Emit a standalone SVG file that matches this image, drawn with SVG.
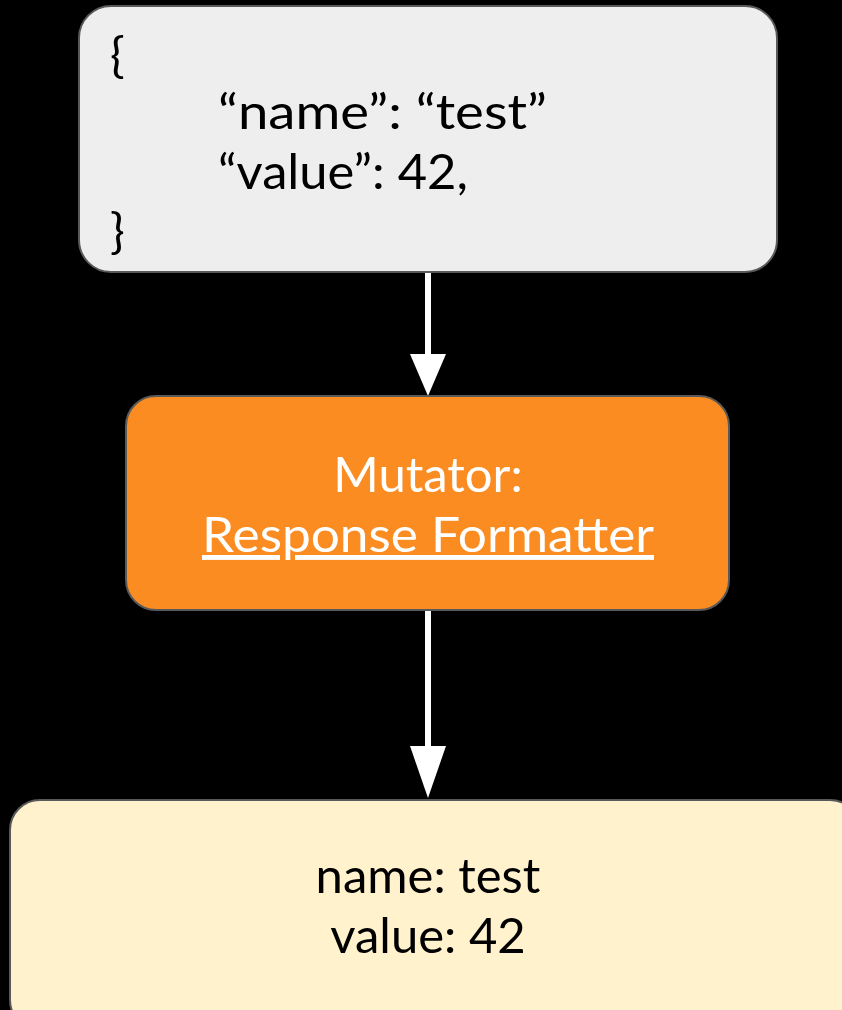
<svg xmlns="http://www.w3.org/2000/svg" width="842" height="1010" viewBox="0 0 842 1010">
<defs>
<style>
.t{font-family:Lato,"Open Sans","Liberation Sans",sans-serif;font-size:49px;}
.box{stroke:#595959;stroke-width:2;}
.edge{stroke:#ffffff;stroke-width:6;fill:none;}
</style>
</defs>
<rect width="842" height="1010" fill="#000000"/>
<g id="connectors">
<line class="edge" x1="428" y1="272" x2="428" y2="359"/>
<path d="M410,354 L446,354 L428,396 Z" fill="#ffffff"/>
<line class="edge" x1="428" y1="610" x2="428" y2="750"/>
<path d="M410,746 L446,746 L428,798 Z" fill="#ffffff"/>
</g>
<g id="json">
<rect class="box" x="79" y="6" width="698" height="266" rx="32" fill="#eeeeee"/>
<text class="t" x="110" y="72" fill="#000">{</text>
<text class="t" x="218" y="129" fill="#000" textLength="329" lengthAdjust="spacingAndGlyphs">“name”: “test”</text>
<text class="t" x="218" y="189" fill="#000" textLength="250" lengthAdjust="spacingAndGlyphs">“value”: 42,</text>
<text class="t" x="110" y="248" fill="#000">}</text>
</g>
<g id="mutator">
<rect class="box" x="126" y="396" width="603" height="214" rx="30" fill="#fb8c21"/>
<text class="t" x="428" y="492" fill="#ffffff" text-anchor="middle">Mutator:</text>
<text class="t" x="428" y="552" fill="#ffffff" text-anchor="middle" text-decoration="underline" textLength="452" lengthAdjust="spacingAndGlyphs">Response Formatter</text>
</g>
<g id="output">
<rect class="box" x="10" y="800" width="850" height="230" rx="30" fill="#fff2cc"/>
<text class="t" x="428" y="893" fill="#000" text-anchor="middle">name: test</text>
<text class="t" x="428" y="953" fill="#000" text-anchor="middle">value: 42</text>
</g>
</svg>
